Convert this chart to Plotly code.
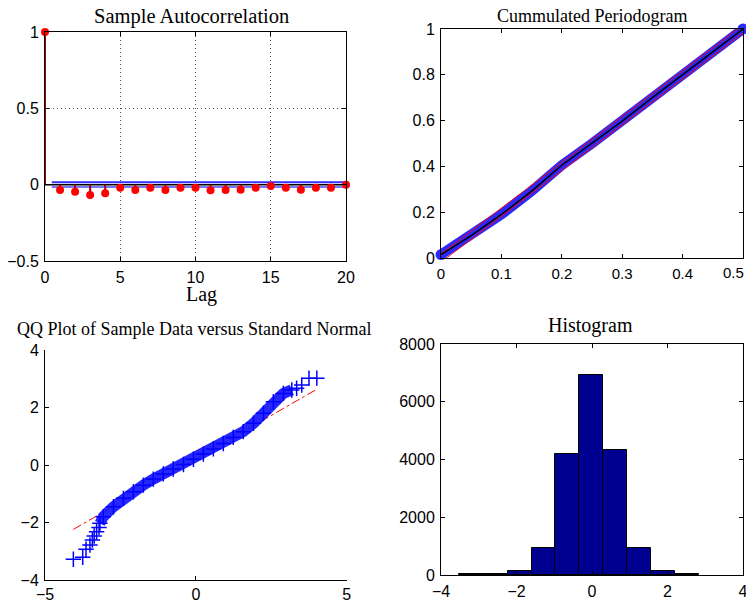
import plotly.graph_objects as go

# page body adds an 8px margin, so the figure is laid out in window pixels minus 8
OFF = 8
W, H = 754 - OFF, 603 - OFF

# ---------------- data ----------------
# Sample autocorrelation
acf_lags = list(range(0, 21))
acf_vals = [1.0, -0.035, -0.047, -0.068, -0.056, -0.021, -0.035, -0.021, -0.035, -0.021,
            -0.021, -0.037, -0.035, -0.033, -0.021, -0.009, -0.021, -0.033, -0.021, -0.021, 0.0]
acf_bound = 0.016
acf_bound_lags = [0.45, 20]

# Cumulated periodogram
cp_freq = [0, 0.05, 0.1, 0.15, 0.2, 0.25, 0.3, 0.35, 0.4, 0.45, 0.5]
cp_vals = [0.015, 0.098, 0.19, 0.292, 0.405, 0.50, 0.598, 0.70, 0.80, 0.90, 1.0]
cp_ref_freq = [0, 0.5]
cp_ref_vals = [0, 1]
cp_band = 0.018
cp_xticks = [0, 0.1, 0.2, 0.3, 0.4, 0.5]
cp_xticklabels = ["0", "0.1", "0.2", "0.3", "0.4", "0.5"]

# QQ plot
qq_x = [-4.06, -3.75, -3.64, -3.51, -3.43, -3.37, -3.29, -3.21, -3.18, -3.07, -2.73, -2.40,
        -2.07, -1.74, -1.41, -1.08, -0.75, -0.41, -0.08, 0.25, 0.58, 0.91, 1.24, 1.57,
        1.91, 2.24, 2.57, 2.90, 3.18, 3.34, 3.51, 3.75, 4.01]
qq_y = [-3.28, -3.21, -2.93, -2.78, -2.61, -2.47, -2.32, -2.17, -2.03, -1.80, -1.45, -1.16,
        -0.93, -0.70, -0.49, -0.31, -0.14, 0.02, 0.20, 0.38, 0.56, 0.75, 0.96, 1.16,
        1.45, 1.80, 2.20, 2.49, 2.61, 2.67, 2.78, 3.02, 3.02]
qq_band_start, qq_band_end = 8, 28   # indices of the dense band
qq_line_x = [-4.06, 4.0]
qq_line_y = [-2.24, 2.63]

# Histogram
hist_edges = [-3.513, -2.866, -2.228, -1.59, -0.97, -0.342, 0.296, 0.916, 1.554, 2.19, 2.83]
hist_counts = [50, 45, 150, 925, 4180, 6915, 4340, 925, 150, 45]

# ---------------- figure ----------------
fig = go.Figure()

# ACF
stem_x, stem_y = [], []
for l, v in zip(acf_lags, acf_vals):
    stem_x += [l, l, None]
    stem_y += [0, v, None]
fig.add_trace(go.Scatter(x=[acf_lags[0], acf_lags[-1]], y=[0, 0], mode="lines",
                         line=dict(color="black", width=1.5), xaxis="x", yaxis="y"))
fig.add_trace(go.Scatter(x=acf_bound_lags, y=[acf_bound] * 2, mode="lines",
                         line=dict(color="#3030ff", width=2), xaxis="x", yaxis="y"))
fig.add_trace(go.Scatter(x=acf_bound_lags, y=[-acf_bound] * 2, mode="lines",
                         line=dict(color="#7878ff", width=2), xaxis="x", yaxis="y"))
fig.add_trace(go.Scatter(x=stem_x, y=stem_y, mode="lines",
                         line=dict(color="#a00000", width=2), xaxis="x", yaxis="y"))
fig.add_trace(go.Scatter(x=acf_lags, y=acf_vals, mode="markers", cliponaxis=False,
                         marker=dict(color="#ff0000", size=8), xaxis="x", yaxis="y"))

# Periodogram
fig.add_trace(go.Scatter(x=cp_freq, y=cp_vals, mode="lines",
                         line=dict(color="#2a2aff", width=10), xaxis="x2", yaxis="y2"))
fig.add_trace(go.Scatter(x=[cp_freq[0], cp_freq[-1]], y=[cp_vals[0], cp_vals[-1]], mode="markers",
                         cliponaxis=False, marker=dict(color="#2a2aff", size=11),
                         xaxis="x2", yaxis="y2"))
fig.add_trace(go.Scatter(x=cp_ref_freq, y=[v + cp_band for v in cp_ref_vals], mode="lines",
                         line=dict(color="#ff0000", width=1), xaxis="x2", yaxis="y2"))
fig.add_trace(go.Scatter(x=cp_ref_freq, y=[v - cp_band for v in cp_ref_vals], mode="lines",
                         line=dict(color="#ff0000", width=1), xaxis="x2", yaxis="y2"))
fig.add_trace(go.Scatter(x=cp_freq, y=cp_vals, mode="lines",
                         line=dict(color="black", width=1.5), xaxis="x2", yaxis="y2"))

# QQ plot
fig.add_trace(go.Scatter(x=qq_line_x, y=qq_line_y, mode="lines",
                         line=dict(color="#ff0000", width=1, dash="dashdot"), xaxis="x3", yaxis="y3"))
fig.add_trace(go.Scatter(x=qq_x[qq_band_start:qq_band_end + 1], y=qq_y[qq_band_start:qq_band_end + 1],
                         mode="lines", line=dict(color="rgba(20,20,255,0.92)", width=11),
                         xaxis="x3", yaxis="y3"))
fig.add_trace(go.Scatter(x=qq_x, y=qq_y, mode="markers",
                         marker=dict(symbol="cross-thin", size=11, line=dict(color="#0000ff", width=1.5)),
                         xaxis="x3", yaxis="y3"))

# Histogram
centers = [(a + b) / 2 for a, b in zip(hist_edges[:-1], hist_edges[1:])]
widths = [b - a for a, b in zip(hist_edges[:-1], hist_edges[1:])]
fig.add_trace(go.Bar(x=centers, y=hist_counts, width=widths,
                     marker=dict(color="#000090", line=dict(color="black", width=1)),
                     xaxis="x4", yaxis="y4"))


def ax(**kw):
    d = dict(showline=True, linecolor="black", linewidth=1, ticks="inside", ticklen=4,
             tickcolor="black", tickwidth=1, mirror="ticks", showgrid=False, zeroline=False,
             ticklabelstandoff=2, automargin=False, ticklabeloverflow="allow",
             tickfont=dict(family="Liberation Sans", size=16, color="black"))
    d.update(kw)
    return d


def px_x(a, b):
    return [(a - OFF) / W, (b - OFF) / W]


def px_y(top, bottom):
    return [1 - (bottom - OFF) / H, 1 - (top - OFF) / H]


grid = dict(showgrid=True, gridcolor="#555555", griddash="1px,3px", gridwidth=1)
tick15 = dict(family="Liberation Sans", size=15, color="black")

# the last periodogram x label sits at the page's right edge: draw it as a right-anchored note
cp_tick_text = cp_xticklabels[:-1] + [""]

fig.update_layout(
    width=W, height=H, margin=dict(l=0, r=0, t=0, b=0), autosize=False,
    paper_bgcolor="white", plot_bgcolor="white", showlegend=False, bargap=0,
    xaxis=ax(domain=px_x(45, 346), range=[0, 20], tickvals=[0, 5, 10, 15, 20], anchor="y", **grid),
    yaxis=ax(domain=px_y(32, 261), range=[-0.5, 1], tickvals=[-0.5, 0, 0.5, 1], anchor="x", **grid),
    xaxis2=ax(domain=px_x(441, 743), range=[0, 0.5], tickvals=cp_xticks, ticktext=cp_tick_text,
              anchor="y2", tickfont=tick15),
    yaxis2=ax(domain=px_y(29, 258), range=[0, 1], tickvals=[0, 0.2, 0.4, 0.6, 0.8, 1], anchor="x2"),
    xaxis3=ax(domain=px_x(45, 346.7), range=[-5, 5], tickvals=[-5, 0, 5], anchor="y3", mirror=False,
              ticklabelstandoff=0),
    yaxis3=ax(domain=px_y(350, 580), range=[-4, 4], tickvals=[-4, -2, 0, 2, 4], anchor="x3", mirror=False),
    xaxis4=ax(domain=px_x(441, 743), range=[-4, 4], tickvals=[-4, -2, 0, 2, 4], anchor="y4"),
    yaxis4=ax(domain=px_y(344, 575), range=[0, 8000], tickvals=[0, 2000, 4000, 6000, 8000], anchor="x4"),
)

fig.add_annotation(text=cp_xticklabels[-1], x=cp_xticks[-1], xref="x2", y=1 - (272 - OFF) / H,
                   yref="paper", xanchor="right", yanchor="middle", xshift=3, showarrow=False,
                   font=tick15)

serif = "Liberation Serif"
titles = [
    ("Sample Autocorrelation", 191, 17, 20.5),
    ("Cummulated Periodogram", 591.5, 16, 18),
    ("QQ Plot of Sample Data versus Standard Normal", 194, 329, 18),
    ("Histogram", 590.7, 325, 20),
    ("Lag", 201, 294, 20),
]
for text, x, y, size in titles:
    fig.add_annotation(text=text, x=(x - OFF) / W, y=1 - (y - OFF) / H, xref="paper", yref="paper",
                       xanchor="center", yanchor="middle", showarrow=False,
                       font=dict(family=serif, size=size, color="black"))

fig.write_html("out.html")
